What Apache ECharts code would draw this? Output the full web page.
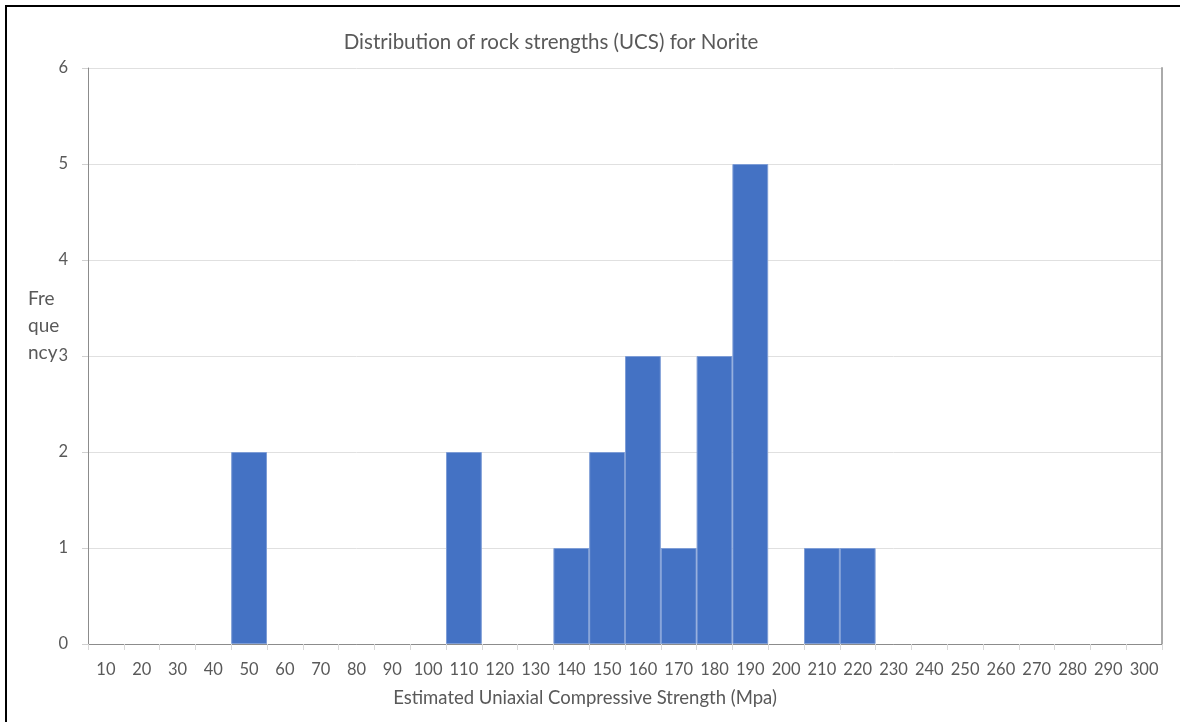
<!DOCTYPE html>
<html>
<head>
<meta charset="utf-8">
<script src="https://cdn.jsdelivr.net/npm/echarts@6/dist/echarts.min.js"></script>
<style>
  html, body { margin: 0; padding: 0; background: #fff; }
  #frame { position: absolute; left: 5px; top: 5px; width: 1175px; height: 717px;
           border-left: 2px solid #000; border-top: 2px solid #000; box-sizing: border-box; }
  #chart { position: absolute; left: 0; top: 0; width: 1180px; height: 722px; }
</style>
</head>
<body>
<div id="chart"></div>
<div id="frame"></div>
<script>
// Bin labels (upper edge of each 10 MPa bin)
const binLabels = ['10','20','30','40','50','60','70','80','90','100',
                   '110','120','130','140','150','160','170','180','190','200',
                   '210','220','230','240','250','260','270','280','290','300'];
// Number of samples falling in each bin
const frequencies = [0,0,0,0,2,0,0,0,0,0,
                     2,0,0,1,2,3,1,3,5,0,
                     1,1,0,0,0,0,0,0,0,0];
const yTicks = [0,1,2,3,4,5,6];

const FONT = 'Lato, "Open Sans", sans-serif';
const TXT = '#595959';

// empty bins get no outline so nothing is drawn on the baseline
const barData = frequencies.map(v => v === 0
  ? { value: v, itemStyle: { borderWidth: 0 } }
  : v);

const chart = echarts.init(document.getElementById('chart'), null, { renderer: 'canvas' });
chart.setOption({
  animation: false,
  backgroundColor: '#fff',
  title: {
    text: 'Distribution of rock strengths (UCS) for Norite',
    left: 546, top: 27, textAlign: 'center',
    textStyle: { fontFamily: FONT, fontSize: 20.5, fontWeight: 'normal', color: TXT }
  },
  grid: { left: 88, right: 18, top: 68, bottom: 78 },
  xAxis: [{
    type: 'category',
    data: binLabels,
    boundaryGap: true,
    axisLine: { lineStyle: { color: '#d9d9d9', width: 1 } },
    axisTick: { show: true, length: 6, lineStyle: { color: '#d9d9d9' } },
    axisLabel: { color: TXT, fontFamily: FONT, fontSize: 16.5, margin: 17, interval: 0 }
  }, {
    type: 'category',
    position: 'top',
    data: binLabels,
    axisLine: { lineStyle: { color: '#8c8c8c', width: 1 } },
    axisTick: { show: false },
    axisLabel: { show: false }
  }],
  yAxis: [{
    type: 'value',
    min: yTicks[0], max: yTicks[yTicks.length - 1], interval: 1,
    axisLine: { show: true, lineStyle: { color: '#8c8c8c', width: 1 } },
    axisTick: { show: true, length: 6, lineStyle: { color: '#d0d0d0' } },
    axisLabel: { color: TXT, fontFamily: FONT, fontSize: 16.5, margin: 20 },
    splitLine: { lineStyle: { color: '#e0e0e0', width: 1 } }
  }, {
    type: 'value',
    position: 'right',
    min: 0, max: 6, interval: 1,
    axisLine: { show: true, lineStyle: { color: '#aaaaaa', width: 2 } },
    axisTick: { show: false },
    axisLabel: { show: false },
    splitLine: { show: false }
  }],
  graphic: [{
    type: 'text', x: 28, y: 285,
    style: { text: 'Fre\nque\nncy', font: '19px ' + FONT, fill: TXT, lineHeight: 27 }
  }, {
    type: 'text', x: 585, y: 698,
    style: { text: 'Estimated Uniaxial Compressive Strength (Mpa)', font: '18.5px ' + FONT,
             fill: TXT, align: 'center', verticalAlign: 'middle' }
  }],
  series: [{
    type: 'bar',
    data: barData,
    barCategoryGap: '0%',
    itemStyle: { color: '#4472c4', borderColor: '#7e9dd6', borderWidth: 1 }
  }]
});
</script>
</body>
</html>
